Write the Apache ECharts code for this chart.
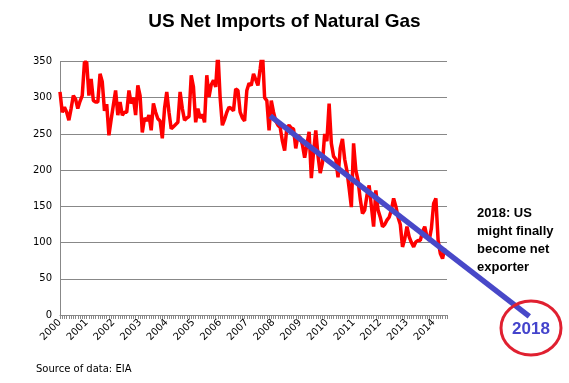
<!DOCTYPE html>
<html><head><meta charset="utf-8">
<script src="https://cdn.jsdelivr.net/npm/echarts@6/dist/echarts.min.js"></script>
<style>html,body{margin:0;padding:0;background:#fff}#c{width:569px;height:383px}</style>
</head><body><div id="c"></div>
<script>
// Monthly net imports, Jan 2000 .. Jun 2014 (Bcf)
var netImports = [
308,280,287,280,269,285,303,298,285,295,303,349,
349,303,326,296,294,294,333,322,282,291,248,270,
290,310,276,294,276,280,280,310,292,300,276,317,
303,252,272,268,276,255,292,280,271,268,244,285,
308,280,257,260,263,266,308,285,269,272,274,331,
315,266,285,272,277,266,331,301,318,324,315,363,
300,262,270,280,287,285,282,312,310,280,272,268,
310,320,317,333,325,317,340,365,300,296,255,296,
280,268,262,259,240,227,259,262,258,257,230,248,
245,235,217,235,253,189,225,255,220,196,210,250,
240,292,237,219,215,190,230,243,215,199,175,149,
237,200,186,160,140,145,165,179,150,122,172,145,
135,122,125,131,135,145,161,150,135,125,94,105,
122,108,100,94,101,103,103,115,122,108,103,120,
154,161,103,85,78,92
];
var yearLabels = ['2000','2001','2002','2003','2004','2005','2006','2007','2008','2009','2010','2011','2012','2013','2014'];
var yTicks = [0,50,100,150,200,250,300,350];
// trend line: month index and value at start / end
var trendX = [94.5, 211];
var trendY = [275, -2];

var chart = echarts.init(document.getElementById('c'));
var redData = netImports.map(function(v,i){return [i,v];});
var trendData = trendX.map(function(x,i){return [x,trendY[i]];});
var font = 'DejaVu Sans';
chart.setOption({
  animation:false,
  backgroundColor:'#fff',
  title:{text:'US Net Imports of Natural Gas',left:'center',top:7,
    textStyle:{fontFamily:'Liberation Sans',fontWeight:'bold',fontSize:19,color:'#000'}},
  grid:[
    {left:60,top:61.5,height:253.5,width:387},
    {left:60,top:61.5,height:253.5,width:387*212/174}
  ],
  xAxis:[
    {type:'value',gridIndex:0,min:0,max:174,interval:12,
     axisLine:{show:true,lineStyle:{color:'#888'}},
     axisTick:{show:true,length:4,lineStyle:{color:'#888'}},
     minorTick:{show:true,splitNumber:12,length:4,lineStyle:{color:'#888'}},
     splitLine:{show:false},
     axisLabel:{rotate:45,fontFamily:font,fontSize:10,color:'#000',showMaxLabel:false,margin:6,
       formatter:function(v){return v%12===0?yearLabels[v/12]||'':'';}}},
    {type:'value',gridIndex:1,min:0,max:212,show:false}
  ],
  yAxis:[
    {type:'value',gridIndex:0,min:yTicks[0],max:yTicks[yTicks.length-1],interval:50,
     axisLine:{show:true,lineStyle:{color:'#888'}},axisTick:{show:false},
     splitLine:{lineStyle:{color:'#888',width:1}},
     axisLabel:{fontFamily:font,fontSize:10,color:'#000',margin:8}},
    {type:'value',gridIndex:1,min:0,max:350,show:false}
  ],
  series:[
    {type:'line',xAxisIndex:0,yAxisIndex:0,data:redData,showSymbol:false,
     lineStyle:{color:'#ff0000',width:3.5},z:3},
    {type:'line',xAxisIndex:1,yAxisIndex:1,data:trendData,showSymbol:false,clip:false,
     lineStyle:{color:'#4848c8',width:5.5},z:4}
  ],
  graphic:[
    {type:'text',left:477,top:204,style:{text:'2018: US\nmight finally\nbecome net\nexporter',
      font:'bold 13px "Liberation Sans"',fill:'#000',lineHeight:18}},
    {type:'ellipse',shape:{cx:531,cy:328,rx:30,ry:27},style:{fill:'none',stroke:'#e02030',lineWidth:3},z:10},
    {type:'text',x:531,y:329,style:{text:'2018',font:'bold 17px "Liberation Sans"',fill:'#4444cc',
      textAlign:'center',textVerticalAlign:'middle'},z:11},
    {type:'text',left:36,top:364,style:{text:'Source of data: EIA',font:'10px "DejaVu Sans"',fill:'#000'}}
  ]
});
</script></body></html>
